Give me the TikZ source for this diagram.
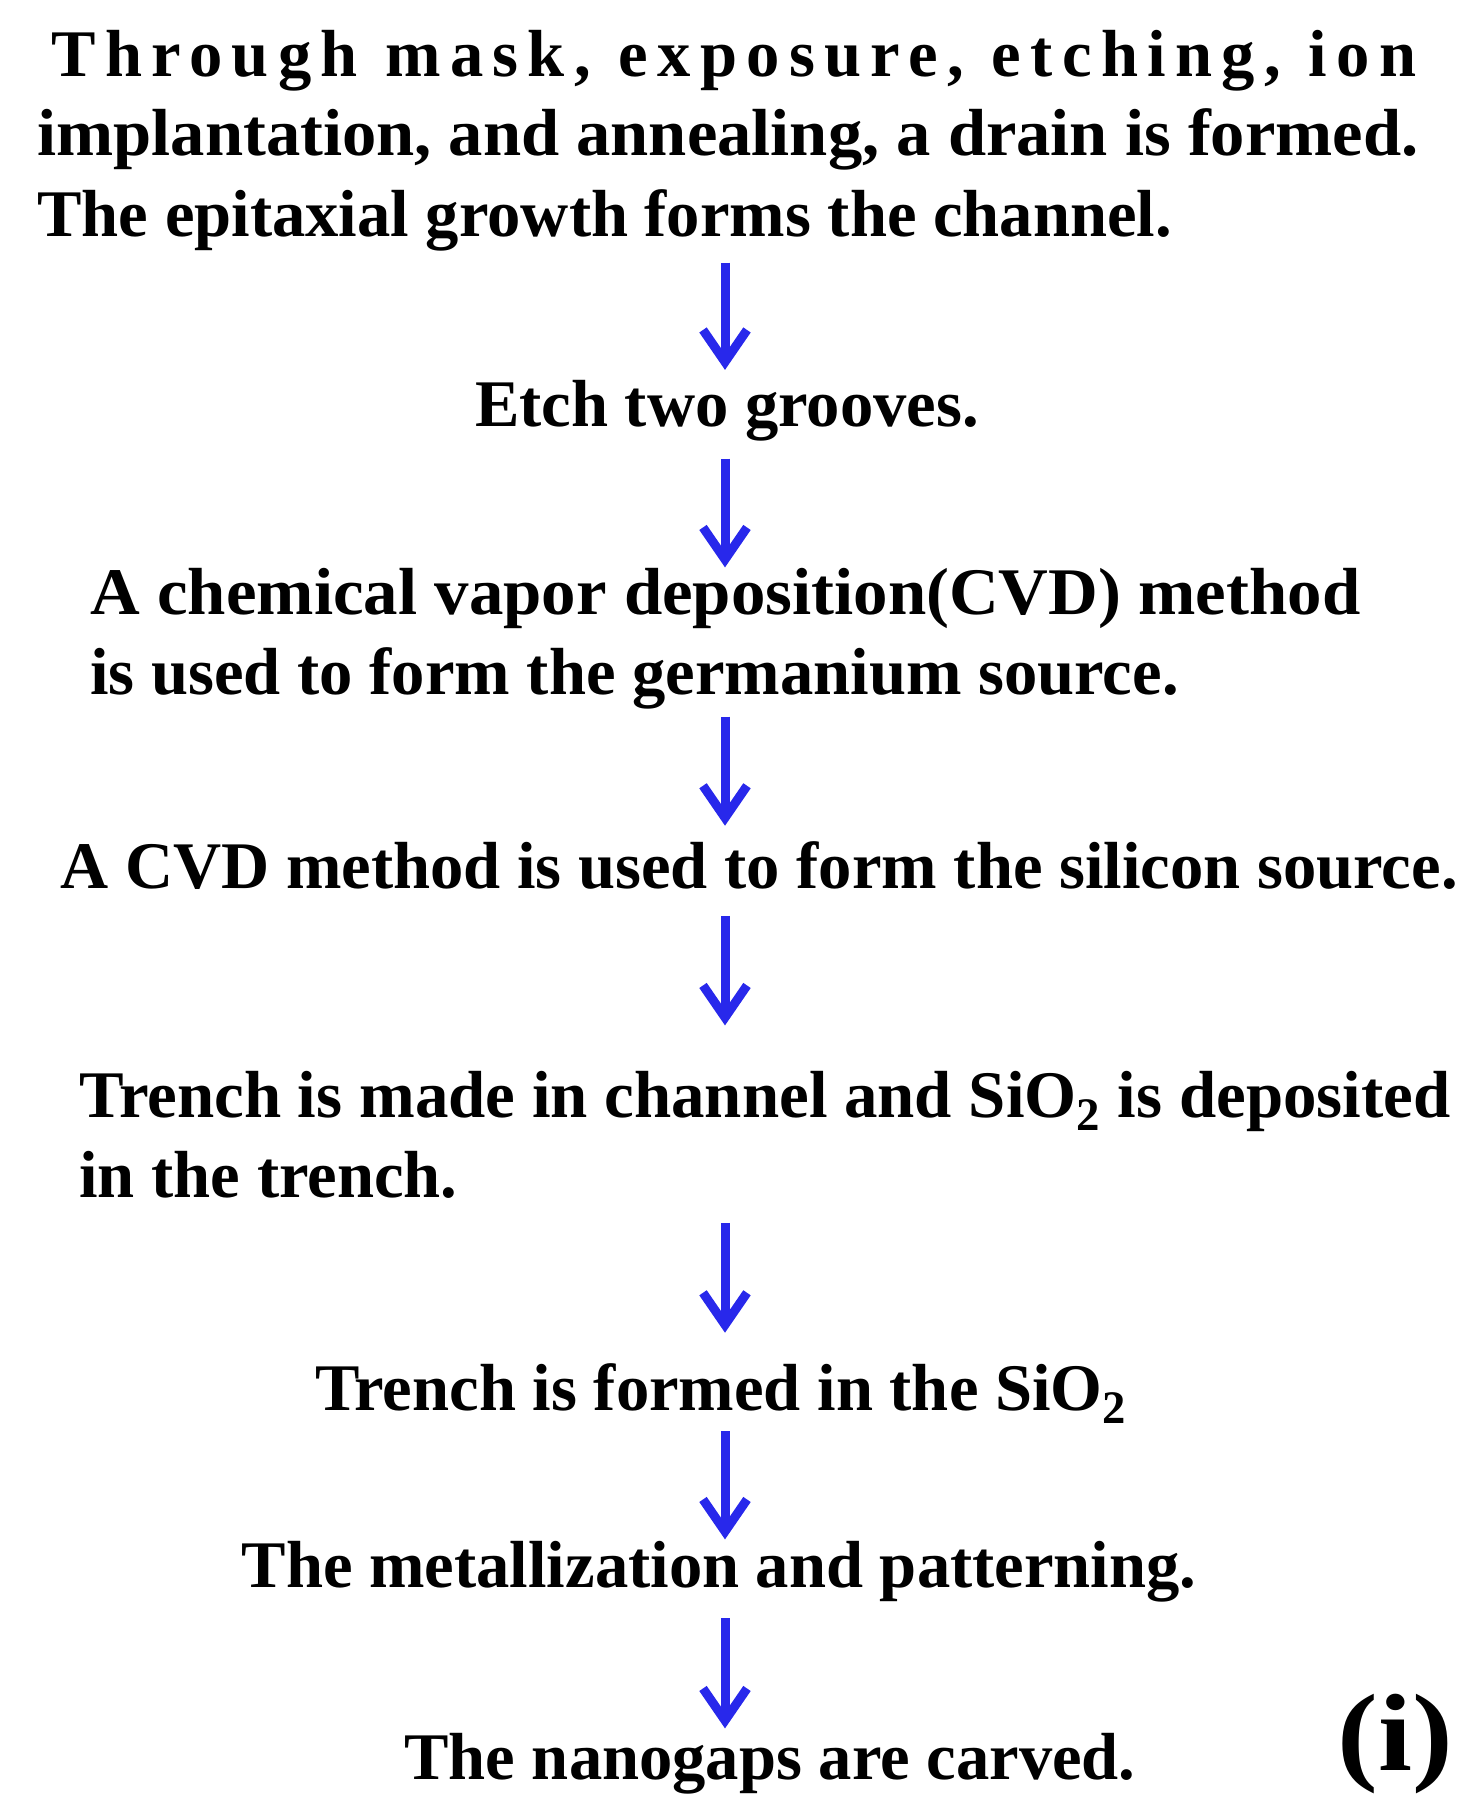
\documentclass[tikz,border=0pt]{standalone}
\usepackage{fontspec}
\setmainfont{Liberation Serif}
\newfontfamily\spacedfont[LetterSpace=14]{Liberation Serif}
\usetikzlibrary{arrows.meta}

\begin{document}
\begin{tikzpicture}[x=0.5pt,y=-0.5pt,
        flow/.style={-{Straight Barb[length=16pt,width=22pt]},line width=4.5pt,draw={rgb,255:red,40;green,40;blue,235}},
        stepnode/.style={inner sep=0pt,font=\fontsize{33.3}{40}\selectfont\bfseries,align=left}]
        \useasboundingbox (0,0) rectangle (1462,1819);

        \coordinate (ax) at (725,0);
        \node[stepnode,anchor=base west] (s1) at (37,236) {\hspace*{7pt}\makebox[682.5pt][s]{\spacedfont Through mask, exposure, etching, ion}\\\resizebox{690.5pt}{\height}{implantation, and annealing, a drain is formed.}\\The epitaxial growth forms the channel.};
        \node[stepnode,anchor=base] (s2) at (727,426) {Etch two grooves.};
        \node[stepnode,anchor=base west] (s3) at (90,694) {\resizebox{635pt}{\height}{A chemical vapor deposition(CVD) method}\\is used to form the germanium source.};
        \node[stepnode,anchor=base west] (s4) at (60,888) {A CVD method is used to form the silicon source.};
        \node[stepnode,anchor=base west] (s5) at (79,1197) {\resizebox{685.5pt}{\height}{Trench is made in channel and SiO\textsubscript{2} is deposited}\\in the trench.};
        \node[stepnode,anchor=base] (s6) at (721,1410) {Trench is formed in the SiO\textsubscript{2}};
        \node[stepnode,anchor=base] (s7) at (719,1587) {The metallization and patterning.};
        \node[stepnode,anchor=base] (s8) at (770,1779) {The nanogaps are carved.};
        \node[inner sep=0pt,anchor=base west,font=\fontsize{55}{60}\selectfont\bfseries] (lab) at (1337,1770) {\scalebox{1.11}[1]{(i)}};

        \draw[flow,shorten <=5.75pt,shorten >=4.75pt] (s1.south -| ax) -- (s2.north -| ax);
        \draw[flow,shorten <=8.8pt,shorten >=0pt] (s2.south -| ax) -- (s3.north -| ax);
        \draw[flow,shorten <=3.8pt,shorten >=7.5pt] (s3.south -| ax) -- (s4.north -| ax);
        \draw[flow,shorten <=13.2pt,shorten >=22.5pt] (s4.south -| ax) -- (s5.north -| ax);
        \draw[flow,shorten <=12.2pt,shorten >=15pt] (s5.south -| ax) -- (s6.north -| ax);
        \draw[flow,shorten <=3.5pt,shorten >=0.5pt] (s6.south -| ax) -- (s7.north -| ax);
        \draw[flow,shorten <=8pt,shorten >=2pt] (s7.south -| ax) -- (s8.north -| ax);
      \end{tikzpicture}
\end{document}
